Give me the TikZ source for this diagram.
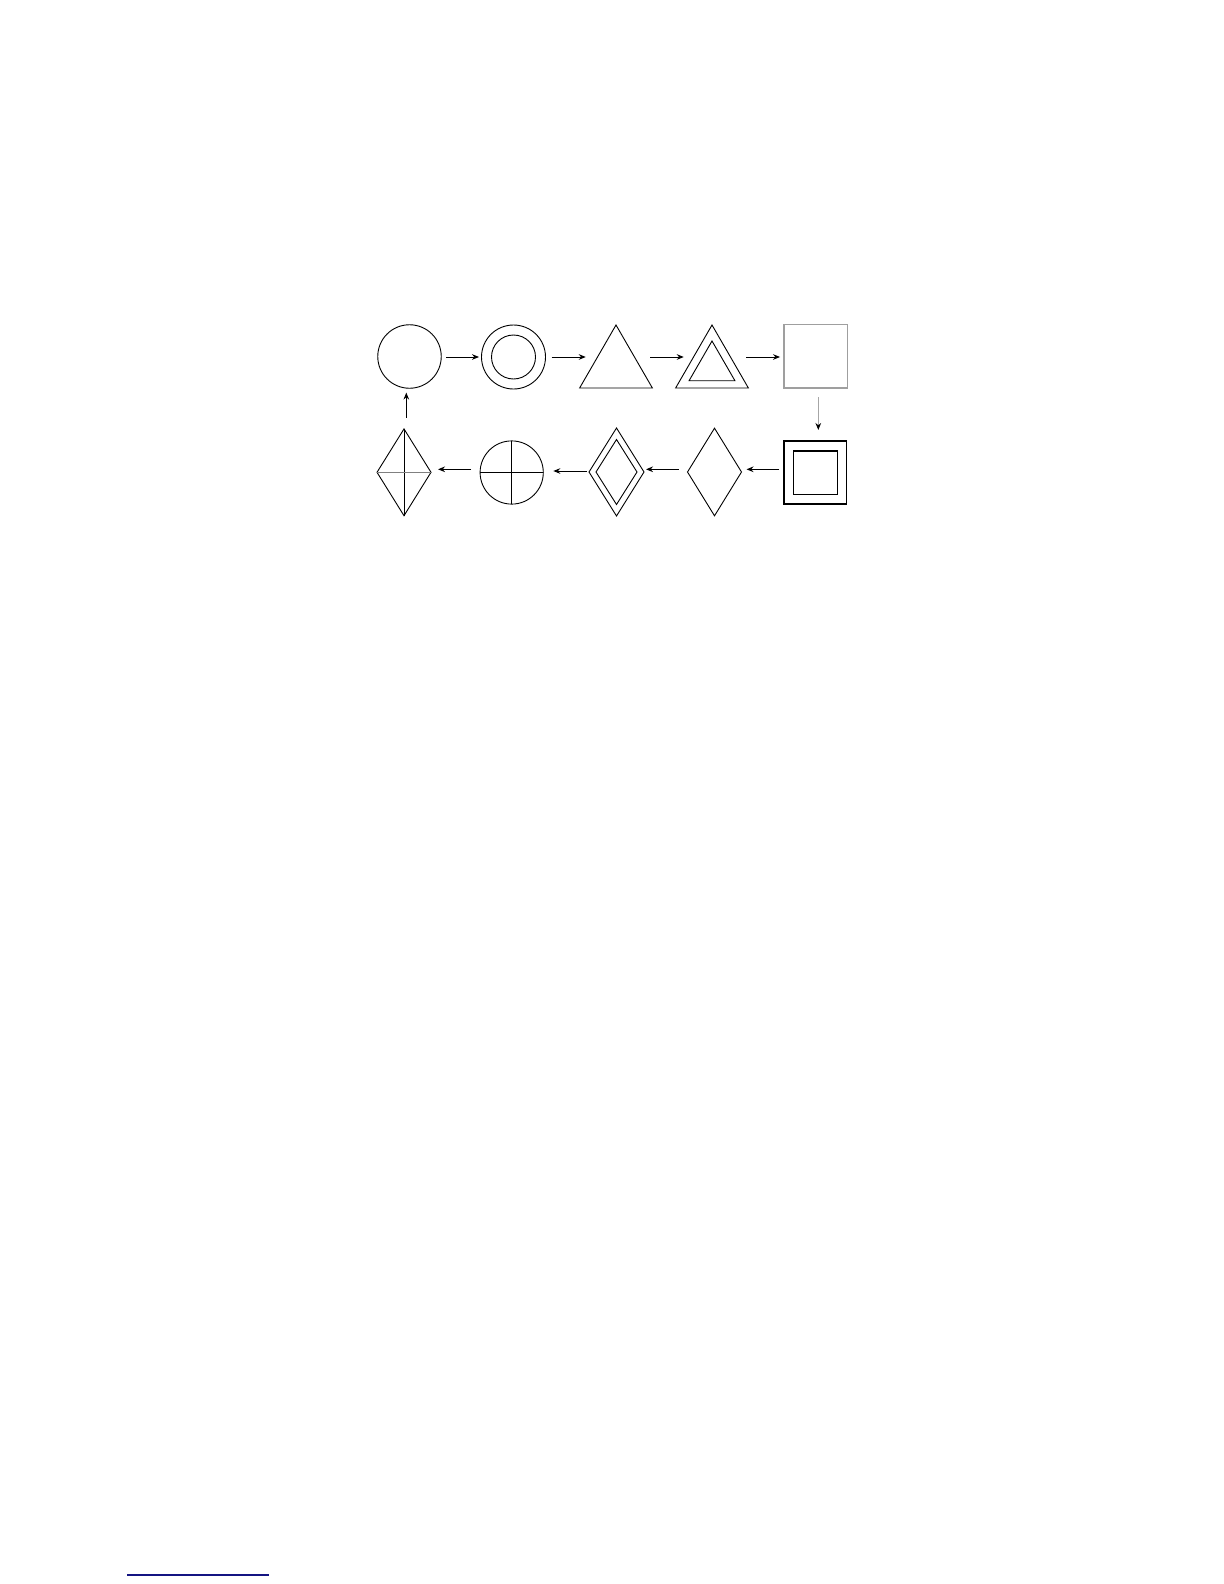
\documentclass[tikz,border=0pt]{standalone}
\usetikzlibrary{shapes.geometric,arrows.meta,calc}
\definecolor{linkblue}{RGB}{20,20,130}
\begin{document}
\begin{tikzpicture}[x=0.5pt,y=-0.5pt,
  shp/.style={draw, inner sep=0pt, outer sep=0pt, line width=0.45pt},
  tri/.style={regular polygon, regular polygon sides=3},
  arr/.style={-{Stealth[length=3.5pt,width=2.8pt]}, line width=0.5pt},
  garr/.style={-{Stealth[length=3.5pt,width=2.8pt,color=black]}, line width=0.55pt, draw=gray!70}]
\useasboundingbox (0,0) rectangle (1224,1584);
% row 1
\node[shp, circle, minimum size=31.75pt] (c1) at (409.5,356.5) {};
\node[shp, circle, minimum size=32pt] (c2) at (513.5,357) {};
\node[shp, circle, minimum size=22pt] (c2i) at (513.5,357) {};
\node[shp, tri, minimum size=42pt] (t1) at (616,367) {};
\node[shp, tri, minimum size=42pt] (t2) at (712,367) {};
\node[shp, tri, minimum size=26.5pt] (t2i) at (712,367.5) {};
\node[shp, draw=gray!75, line width=0.6pt, minimum size=31.65pt] (s1) at (815.7,356.4) {};
% row 2
\node[shp, line width=0.65pt, minimum width=31.35pt, minimum height=31.5pt] (s2) at (815.4,472.5) {};
\node[shp, line width=0.6pt, minimum width=22.2pt, minimum height=21.65pt] (s2i) at (815.5,472.7) {};
\node[shp, diamond, minimum width=27pt, minimum height=43.8pt] (d1) at (714.5,472) {};
\node[shp, diamond, minimum width=27.5pt, minimum height=44pt] (d2) at (616.5,472) {};
\node[shp, diamond, minimum width=20.5pt, minimum height=32.5pt] (d2i) at (616.5,472) {};
\node[shp, circle, minimum size=31.6pt] (c3) at (511.7,472.5) {};
\draw[line width=0.5pt] (c3.north) -- (c3.south);
\draw[line width=0.45pt] (c3.west) -- (c3.east);
\node[shp, diamond, minimum width=27pt, minimum height=43.4pt] (d3) at (404,472.3) {};
\draw[line width=0.45pt] (d3.north) -- (d3.south);
\draw[line width=0.45pt, gray] (d3.west) -- (d3.east);
% connectors row 1
\draw[arr] ($(c2.west -| c1.east)+(4.8,0)$) -- ($(c2.west)+(-2.5,0)$);
\draw[arr] ($(c2.east)+(6,0)$) -- ($(c2.east -| t1.west)+(-6,0)$);
\draw[arr] ($(c2.east -| t1.east)+(10,0)$) -- ($(c2.east -| t2.west)+(-4,0)$);
\draw[arr] ($(c2.east -| t2.east)+(10,0)$) -- ($(c2.east -| s1.west)+(-4,0)$);
% down
\draw[garr] ($(s1.south)+(2.6,9)$) -- ($(s1.south |- s2.north)+(2.6,-11)$);
% connectors row 2
\draw[arr] ($(s2.west)+(-4.7,-3.2)$) -- ($(s2.west -| d1.east)+(5,-3.2)$);
\draw[arr] ($(s2.west -| d1.west)+(-8.7,-3.2)$) -- ($(s2.west -| d2.east)+(2,-3.2)$);
\draw[arr] ($(s2.west -| d2.west)+(-2,-1.5)$) -- ($(s2.west -| c3.east)+(10,-1.5)$);
\draw[arr] ($(s2.west -| c3.west)+(-9,-3.2)$) -- ($(s2.west -| d3.east)+(7,-3.2)$);
% up
\draw[arr] ($(d3.north)+(2.3,-11)$) -- ($(d3.north |- c1.south)+(2.3,4.3)$);
% footnote rule
\draw[linkblue, line width=0.7pt] (127.3,1575) -- (269,1575);
\end{tikzpicture}
\end{document}
